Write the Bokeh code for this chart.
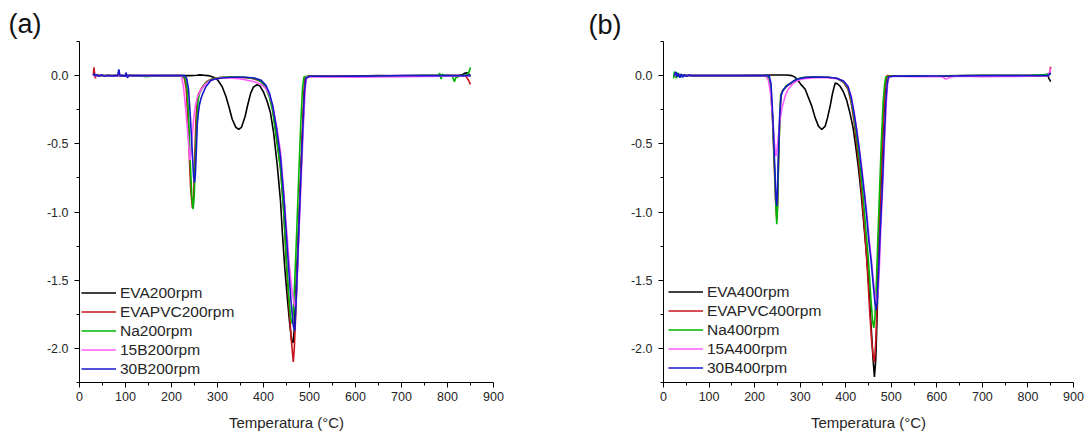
from bokeh.plotting import figure
from bokeh.layouts import row
from bokeh.models import FixedTicker, NumeralTickFormatter, Range1d
from bokeh.embed import file_html
from bokeh.resources import INLINE

# ---------------- Panel (a): 200 rpm ----------------
a_names = ["EVA200rpm", "EVAPVC200rpm", "Na200rpm", "15B200rpm", "30B200rpm"]

a_eva_T = [30, 34, 40, 60, 100, 150, 200, 240, 255, 262, 270, 280, 290, 300, 310, 318, 325, 332, 340, 346,
           352, 360, 366, 372, 378, 385, 392, 400, 408, 415, 422, 430, 437, 441, 446, 452, 457, 461, 464, 467,
           472, 479, 485, 489, 492, 500, 550, 600, 650, 700, 750, 800, 825, 833, 838, 843, 847, 850]
a_eva_V = [0.012, 0.005, 0.002, 0, 0, 0, 0, 0, 0.003, 0.005, 0.003, 0, -0.01, -0.03, -0.08, -0.15, -0.23, -0.32, -0.38, -0.395,
           -0.38, -0.30, -0.21, -0.13, -0.085, -0.068, -0.075, -0.12, -0.19, -0.27, -0.42, -0.66, -0.92, -1.15, -1.40, -1.64, -1.82, -1.94, -1.96, -1.86,
           -1.45, -0.90, -0.42, -0.12, -0.02, -0.005, -0.005, -0.003, 0, -0.002, 0, 0, 0, 0.008, 0.018, 0.02, 0.008, -0.005]

a_red_T = [30, 31.5, 33, 34.5, 36, 39, 45, 60, 100, 150, 200, 222, 228, 232, 236, 239, 242, 245.5, 248, 250.5,
           253, 256, 259, 262, 265, 270, 276, 285, 295, 310, 330, 350, 370, 385, 395, 405, 413, 420, 428, 437,
           444, 450, 455, 460, 464.8, 467, 470, 475, 480, 485, 488, 490, 495, 550, 600, 650, 700, 750, 800, 830,
           840, 845, 850]
a_red_V = [0, 0.06, 0.01, -0.02, 0, 0.005, 0, 0, 0, 0, 0, 0, -0.02, -0.1, -0.35, -0.62, -0.85, -0.97, -0.88, -0.6,
           -0.33, -0.18, -0.13, -0.115, -0.095, -0.07, -0.045, -0.028, -0.018, -0.012, -0.012, -0.013, -0.018, -0.03, -0.045, -0.085, -0.15, -0.25, -0.44, -0.68,
           -1.0, -1.38, -1.66, -1.92, -2.10, -2.00, -1.75, -1.30, -0.80, -0.35, -0.10, -0.02, -0.005, -0.005, -0.005, -0.003, 0, 0, 0, 0,
           -0.005, -0.03, -0.065]

a_grn_T = [30, 40, 60, 100, 130, 145, 155, 170, 200, 224, 230, 234, 238, 241, 244, 247, 249.5, 252, 255, 258,
           261, 264, 268, 273, 280, 290, 300, 320, 350, 370, 385, 395, 405, 413, 420, 428, 437, 444, 450, 455,
           459, 462.7, 465, 469, 473, 477, 481, 485, 488, 495, 550, 600, 650, 700, 750, 780, 783, 786, 789, 795,
           810, 815, 818, 822, 830, 840, 846, 850]
a_grn_V = [0.005, 0, 0, 0, 0, -0.008, -0.005, 0, 0, 0, -0.02, -0.1, -0.36, -0.65, -0.88, -0.98, -0.88, -0.6, -0.33, -0.18,
           -0.13, -0.11, -0.085, -0.06, -0.04, -0.025, -0.016, -0.011, -0.011, -0.016, -0.025, -0.045, -0.09, -0.16, -0.26, -0.46, -0.68, -1.0, -1.38, -1.62,
           -1.78, -1.82, -1.72, -1.42, -1.07, -0.70, -0.35, -0.08, -0.01, -0.005, -0.008, -0.006, -0.004, -0.002, 0, 0, 0.018, -0.025, 0.01, 0,
           0, -0.045, -0.015, -0.01, 0, 0.005, 0.02, 0.06]

a_pnk_T = [30, 50, 100, 150, 200, 218, 222, 226, 231, 236, 240, 242, 245, 248, 252, 256, 260, 265, 272, 280,
           290, 300, 320, 340, 360, 380, 395, 405, 413, 420, 428, 437, 444, 450, 456, 462, 467, 470, 473, 477,
           482, 487, 491, 494, 500, 550, 600, 650, 700, 750, 800, 850]
a_pnk_V = [0, 0, 0, 0, 0, 0, -0.01, -0.08, -0.25, -0.45, -0.62, -0.58, -0.45, -0.32, -0.22, -0.16, -0.13, -0.10, -0.07, -0.045,
           -0.03, -0.02, -0.015, -0.02, -0.03, -0.045, -0.065, -0.095, -0.14, -0.22, -0.36, -0.56, -0.85, -1.12, -1.38, -1.58, -1.68, -1.70, -1.50, -1.15,
           -0.75, -0.35, -0.08, -0.01, -0.008, -0.01, -0.012, -0.01, -0.008, -0.006, -0.005, 0]

a_blu_T = [30, 33, 37, 42, 48, 55, 62, 70, 78, 83, 85.5, 88, 93, 99, 101.5, 104, 108, 115, 130, 150,
           200, 228, 233, 237, 241, 245, 248, 250, 252, 254, 256, 258.5, 261, 264, 267, 271, 275, 280, 285, 295,
           310, 330, 360, 380, 395, 405, 413, 420, 428, 437, 444, 450, 455, 460, 465, 468, 471, 475, 480, 485,
           489, 492, 500, 550, 600, 650, 700, 750, 800, 850]
a_blu_V = [0.015, 0, 0.008, -0.005, 0.005, -0.004, 0.003, -0.003, 0, 0, 0.045, 0, 0, -0.005, 0.022, -0.017, 0.003, 0, 0, 0,
           0, 0, -0.02, -0.1, -0.3, -0.55, -0.74, -0.785, -0.72, -0.55, -0.36, -0.27, -0.21, -0.17, -0.14, -0.11, -0.08, -0.06, -0.036, -0.025,
           -0.018, -0.012, -0.012, -0.018, -0.035, -0.07, -0.13, -0.22, -0.38, -0.60, -0.88, -1.18, -1.43, -1.66, -1.84, -1.87, -1.65, -1.30, -0.85, -0.42,
           -0.12, -0.02, -0.005, -0.005, -0.004, -0.003, 0, 0, 0, 0]

# ---------------- Panel (b): 400 rpm ----------------
b_names = ["EVA400rpm", "EVAPVC400rpm", "Na400rpm", "15A400rpm", "30B400rpm"]

b_eva_T = [24, 30, 40, 60, 100, 150, 200, 240, 270, 282, 290, 296, 303, 311, 318, 325.5, 333, 340, 347.5, 355,
           360, 366, 371, 376.7, 382, 388, 395, 402, 409, 416, 422, 428, 434, 440, 447, 452, 456, 460, 463, 466,
           469, 473, 477, 481, 485, 488, 491, 500, 550, 600, 650, 700, 750, 800, 830, 838, 843, 846, 850]
b_eva_V = [0, 0, 0, 0, 0, 0, 0.002, 0.004, 0.004, 0, -0.015, -0.04, -0.07, -0.10, -0.16, -0.224, -0.31, -0.37, -0.395, -0.37,
           -0.31, -0.22, -0.13, -0.055, -0.06, -0.08, -0.12, -0.18, -0.27, -0.38, -0.52, -0.68, -0.87, -1.10, -1.36, -1.62, -1.85, -2.08, -2.21, -2.08,
           -1.75, -1.25, -0.85, -0.48, -0.18, -0.04, -0.005, -0.003, -0.003, -0.003, 0, 0, 0, 0, 0, 0.005, 0.01, -0.02, -0.045]

b_red_T = [24, 30, 40, 60, 100, 150, 200, 226, 231, 235, 239, 243, 246, 248.6, 250.5, 252.5, 255, 257.5, 260, 264,
           268, 274, 280, 287, 295, 310, 330, 360, 380, 395, 405, 412, 418, 424, 430, 436, 442, 448, 453, 457,
           461, 463, 466, 469, 473, 477, 481, 485, 488, 491, 500, 550, 600, 650, 700, 750, 800, 845, 848, 850]
b_red_V = [0, 0.005, 0, 0, 0, 0, 0, 0, -0.01, -0.07, -0.3, -0.65, -0.92, -1.05, -0.95, -0.65, -0.33, -0.16, -0.12, -0.10,
           -0.085, -0.068, -0.058, -0.04, -0.025, -0.015, -0.01, -0.012, -0.02, -0.05, -0.1, -0.2, -0.33, -0.5, -0.68, -0.9, -1.15, -1.45, -1.75, -1.95,
           -2.07, -2.10, -1.95, -1.65, -1.2, -0.8, -0.45, -0.15, -0.03, 0, -0.003, -0.003, -0.003, -0.002, 0, 0, 0, 0, 0.03, 0.065]

b_grn_T = [22, 24, 26, 28, 30, 32, 34, 37, 40, 43, 47, 52, 58, 65, 100, 150, 200, 226, 230, 235,
           240, 244, 247, 248.6, 250, 252, 255, 257, 260, 264, 268, 274, 279, 286, 293, 305, 330, 360, 380, 395,
           405, 412, 418, 424, 430, 437.7, 444, 450, 455, 459, 461.6, 464, 467, 470, 474, 478, 482, 485.5, 488, 500,
           550, 600, 650, 700, 750, 800, 850]
b_grn_V = [-0.02, 0.03, 0.012, -0.02, 0.005, 0.02, -0.01, 0.012, -0.01, 0.006, -0.005, 0.003, -0.002, 0, 0, 0, 0, 0, -0.01, -0.08,
           -0.35, -0.7, -0.98, -1.09, -1.0, -0.7, -0.35, -0.15, -0.12, -0.10, -0.08, -0.065, -0.06, -0.04, -0.025, -0.015, -0.01, -0.012, -0.02, -0.045,
           -0.09, -0.18, -0.3, -0.45, -0.62, -0.87, -1.12, -1.36, -1.62, -1.80, -1.85, -1.78, -1.55, -1.25, -0.87, -0.5, -0.2, -0.06, -0.01, -0.003,
           -0.003, -0.003, -0.002, 0, 0, 0, 0.01]

b_pnk_T = [24, 30, 40, 60, 100, 150, 200, 223, 230, 236, 241, 245, 247, 249, 252, 256, 260, 263, 268, 274,
           282, 292, 305, 330, 360, 380, 395, 405, 412, 418, 424, 430, 436, 441, 446, 451, 456, 460, 464, 468,
           471, 474, 477, 481, 485, 489, 492, 495, 510, 550, 600, 612, 620, 630, 640, 700, 750, 800, 845, 848, 850]
b_pnk_V = [0, 0.005, 0, 0, 0, 0, 0, 0, -0.03, -0.15, -0.38, -0.55, -0.59, -0.55, -0.45, -0.32, -0.24, -0.2, -0.14, -0.1,
           -0.065, -0.04, -0.025, -0.015, -0.015, -0.022, -0.04, -0.08, -0.15, -0.26, -0.39, -0.54, -0.70, -0.85, -1.0, -1.18, -1.34, -1.48, -1.6, -1.67,
           -1.6, -1.4, -1.12, -0.82, -0.5, -0.2, -0.06, -0.01, -0.005, -0.008, -0.006, -0.01, -0.025, -0.012, -0.005, -0.008, -0.006, -0.005, 0, 0.03, 0.055]

b_blu_T = [24, 26, 28, 30, 33, 36, 39, 42, 46, 50, 55, 62, 100, 150, 200, 228, 232, 236, 240, 244,
           247, 248.6, 250, 252, 255, 258, 262, 268, 275, 285, 295, 310, 330, 360, 380, 395, 405, 412, 418, 424,
           430, 436, 441, 446, 451, 455.8, 460, 464, 466.7, 469, 472, 476, 479.7, 484, 488, 491, 494, 505, 550, 600,
           650, 700, 750, 800, 845, 850]
b_blu_V = [-0.005, 0.02, 0.025, -0.01, 0.015, -0.015, 0.012, -0.012, 0.008, -0.006, 0.004, 0, 0, 0, 0, 0, 0, -0.06, -0.3, -0.65,
           -0.9, -0.956, -0.88, -0.6, -0.3, -0.15, -0.11, -0.085, -0.065, -0.04, -0.025, -0.015, -0.01, -0.012, -0.02, -0.04, -0.08, -0.16, -0.27, -0.4,
           -0.55, -0.72, -0.87, -1.03, -1.22, -1.36, -1.52, -1.66, -1.72, -1.66, -1.45, -1.12, -0.87, -0.5, -0.2, -0.06, -0.01, -0.003, -0.004, -0.003,
           -0.002, 0, 0, 0, 0, 0.02]

x_major = [0, 100, 200, 300, 400, 500, 600, 700, 800, 900]
x_minor = [50, 150, 250, 350, 450, 550, 650, 750, 850]
y_major = [-2.0, -1.5, -1.0, -0.5, 0.0]
y_minor = [-2.25, -1.75, -1.25, -0.75, -0.25, 0.25]

COLORS = ["#000000", "#c8141c", "#00b400", "#ff5cff", "#1717cc"]
FONT = "Liberation Sans"
TXT = "#262626"


def make_panel(letter, names, series, frame_left, frame_w, right, leg_loc, title_offset, title_standoff):
    total_w = frame_left + frame_w + right
    p = figure(width=total_w, height=434, x_range=Range1d(0, 900), y_range=Range1d(-2.25, 0.25),
               min_border_left=frame_left, min_border_right=right, min_border_top=41, min_border_bottom=52,
               output_backend="svg", toolbar_location=None)
    p.outline_line_color = None
    p.xgrid.visible = False
    p.ygrid.visible = False
    p.background_fill_color = "white"
    p.border_fill_color = "white"

    p.title.text = letter
    p.title.text_font = FONT
    p.title.text_font_size = "27px"
    p.title.text_font_style = "normal"
    p.title.text_color = "#111111"
    p.title.align = "left"
    p.title.offset = title_offset
    p.title.standoff = title_standoff

    for (T, V), name, col in zip(series, names, COLORS):
        p.line(T, V, line_color=col, line_width=1.6, legend_label=name)

    p.xaxis.ticker = FixedTicker(ticks=x_major, minor_ticks=x_minor)
    p.yaxis.ticker = FixedTicker(ticks=y_major, minor_ticks=y_minor)
    p.yaxis.formatter = NumeralTickFormatter(format="0.0")
    for ax in (p.xaxis[0], p.yaxis[0]):
        ax.axis_line_color = "#000000"
        ax.axis_line_width = 1
        ax.major_tick_line_color = "#000000"
        ax.minor_tick_line_color = "#000000"
        ax.major_tick_in = 0
        ax.major_tick_out = 5
        ax.minor_tick_in = 0
        ax.minor_tick_out = 3
        ax.major_label_text_font = FONT
        ax.major_label_text_font_size = "12.5px"
        ax.major_label_text_color = TXT
    p.xaxis.major_label_standoff = 4
    p.yaxis.major_label_standoff = 6
    p.xaxis.axis_label = "Temperatura (°C)"
    p.xaxis.axis_label_text_font = FONT
    p.xaxis.axis_label_text_font_size = "15px"
    p.xaxis.axis_label_text_font_style = "normal"
    p.xaxis.axis_label_text_color = TXT
    p.xaxis.axis_label_standoff = 10

    leg = p.legend[0]
    leg.location = leg_loc
    leg.margin = 0
    leg.padding = 2
    leg.spacing = 0
    leg.glyph_width = 35
    leg.glyph_height = 19
    leg.label_height = 19
    leg.label_standoff = 4
    leg.label_text_font = FONT
    leg.label_text_font_size = "15.5px"
    leg.label_text_color = TXT
    leg.background_fill_alpha = 0
    leg.border_line_alpha = 0
    return p


pa = make_panel("(a)", a_names,
                [(a_eva_T, a_eva_V), (a_red_T, a_red_V), (a_grn_T, a_grn_V), (a_pnk_T, a_pnk_V), (a_blu_T, a_blu_V)],
                79, 414, 52, (0, 2), -71, 5)
pb = make_panel("(b)", b_names,
                [(b_eva_T, b_eva_V), (b_red_T, b_red_V), (b_grn_T, b_grn_V), (b_pnk_T, b_pnk_V), (b_blu_T, b_blu_V)],
                118, 410, 11, (3, 3), -75, 3)

layout = row(pa, pb)
open("out.html", "w").write(file_html(layout, INLINE))
